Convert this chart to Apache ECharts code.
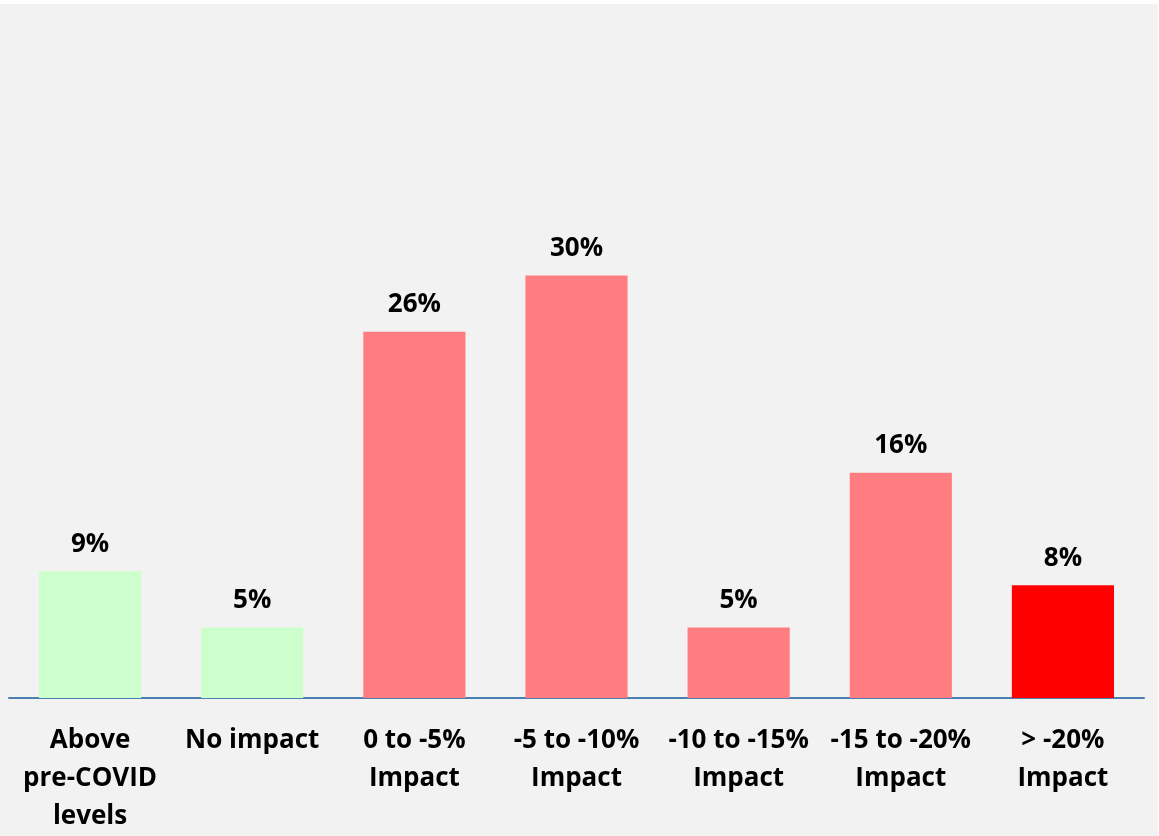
<!DOCTYPE html>
<html>
<head>
<meta charset="utf-8">
<script src="https://cdn.jsdelivr.net/npm/echarts@6/dist/echarts.min.js"></script>
<style>
  html, body { margin: 0; padding: 0; background: #ffffff; }
  #chart { position: absolute; left: 0; top: 4px; width: 1158px; height: 832px; background: #f2f2f2; }
</style>
</head>
<body>
<div id="chart"></div>
<script>
// Share of respondents by expected revenue impact
const categories = [
  'Above\npre-COVID\nlevels',
  'No impact',
  '0 to -5%\nImpact',
  '-5 to -10%\nImpact',
  '-10 to -15%\nImpact',
  '-15 to -20%\nImpact',
  '> -20%\nImpact'
];
const shares = [9, 5, 26, 30, 5, 16, 8];
const barColors = ['#ccffcc', '#ccffcc', '#ff7c80', '#ff7c80', '#ff7c80', '#ff7c80', '#ff0000'];

const chart = echarts.init(document.getElementById('chart'), null, { renderer: 'canvas' });
const font = '"Open Sans", "Liberation Sans", sans-serif';

chart.setOption({
  backgroundColor: '#f2f2f2',
  animation: false,
  grid: { left: 9, right: 14, top: 18, bottom: 132, containLabel: false },
  xAxis: {
    type: 'category',
    data: categories,
    axisTick: { show: false },
    axisLine: { lineStyle: { color: '#4a7fb0', width: 2 } },
    axisLabel: {
      interval: 0,
      margin: 24,
      fontFamily: font,
      fontWeight: 'bold',
      fontSize: 26,
      lineHeight: 38,
      color: '#000000'
    }
  },
  yAxis: {
    type: 'value',
    min: 0,
    max: 48,
    show: false,
    splitLine: { show: false }
  },
  series: [{
    type: 'bar',
    barWidth: '63%',
    data: shares.map((v, i) => ({ value: v, itemStyle: { color: barColors[i] } })),
    label: {
      show: true,
      position: 'top',
      distance: 14,
      formatter: p => p.value + '%',
      fontFamily: font,
      fontWeight: 'bold',
      fontSize: 26,
      color: '#000000'
    }
  }]
});
</script>
</body>
</html>
